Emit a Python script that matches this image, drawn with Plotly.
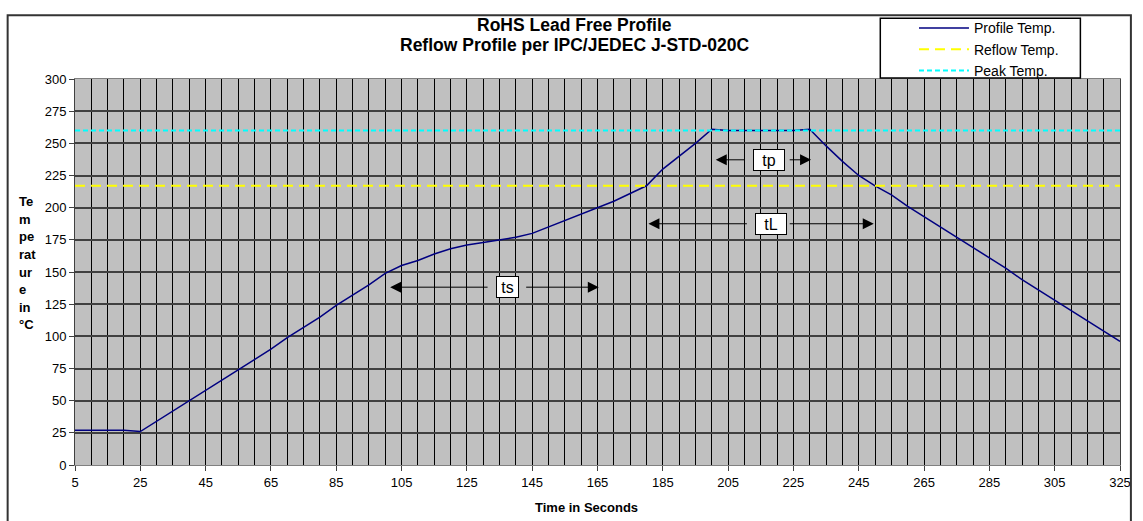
import plotly.graph_objects as go

# ---------------- data ----------------
time_s = list(range(5, 330, 5))
profile_temp = [27, 27, 27, 27, 26,
                34, 42, 50, 58, 66, 74, 82, 90, 99, 107, 115, 124, 132, 140, 149,
                155, 159, 164, 168, 171, 173, 175, 177, 180, 185, 190, 195, 200, 205, 211, 217,
                230, 240, 250, 261, 260, 260, 260, 260, 260, 261,
                248, 236, 225, 217, 210, 201, 193, 185, 177, 169, 161, 153, 144, 136, 128, 120, 112, 104, 96]
reflow_temp = [217] * len(time_s)
peak_temp = [260] * len(time_s)

series_names = ["Profile Temp.", "Reflow Temp.", "Peak Temp."]
x_tick_vals = list(range(5, 330, 20))
y_tick_vals = list(range(0, 301, 25))

# interval annotations: label, y level, left tip, left inner, right inner, right tip, label x
interval_labels = ["tp", "tL", "ts"]
interval_y = [237.2, 187.5, 138.2]
interval_left_tip = [201.2, 180.6, 101.5]
interval_left_in = [210.6, 211.2, 131.8]
interval_right_in = [223.4, 223.4, 142.7]
interval_right_tip = [230.4, 249.6, 165.4]
interval_label_x = [217.6, 218.2, 137.4]
interval_box_w = [28, 28, 19]

title_lines = ["RoHS Lead Free Profile", "Reflow Profile per IPC/JEDEC J-STD-020C"]
y_title_lines = ["Te", "m", "pe", "rat", "ur", "e", "in", "°C"]
x_title = "Time in Seconds"

FONT = "Arial, Liberation Sans, sans-serif"

# ---------------- layout geometry (pixels) ----------------
W, H = 1143, 521
L, R, T, B = 75, 13, 71, 56
PW, PH = W - L - R, H - T - B


def px_x(p):
    return (p - L) / PW


def px_y(p):
    return (H - B - p) / PH


fig = go.Figure()
fig.add_trace(go.Scatter(x=time_s, y=profile_temp, mode="lines", name=series_names[0],
                         line=dict(color="#000080", width=1.5)))
fig.add_trace(go.Scatter(x=time_s, y=reflow_temp, mode="lines", name=series_names[1],
                         line=dict(color="#FFFF00", width=2, dash="10px,6px")))
fig.add_trace(go.Scatter(x=time_s, y=peak_temp, mode="lines", name=series_names[2],
                         line=dict(color="#00FFFF", width=2, dash="5px,3px")))

annotations = []
for i, lab in enumerate(interval_labels):
    yv = interval_y[i]
    annotations.append(dict(x=interval_label_x[i], y=yv, xref="x", yref="y", text=lab,
                            xanchor="center", yanchor="middle",
                            showarrow=False, bgcolor="white", bordercolor="black",
                            borderwidth=1, borderpad=1, width=interval_box_w[i], height=18,
                            align="center", valign="middle",
                            font=dict(family=FONT, size=16, color="black")))
    for inner, tip in ((interval_left_in[i], interval_left_tip[i]),
                       (interval_right_in[i], interval_right_tip[i])):
        annotations.append(dict(x=tip, y=yv, ax=inner, ay=yv, xref="x", yref="y",
                                axref="x", ayref="y", text="", showarrow=True,
                                arrowhead=2, arrowsize=2.2, arrowwidth=1, arrowcolor="black"))


def text_ann(txt, xp, yp, size, bold=True, xanchor="center"):
    return dict(x=px_x(xp), y=px_y(yp), xref="paper", yref="paper",
                text=f"<b>{txt}</b>" if bold else txt, showarrow=False,
                xanchor=xanchor, yanchor="middle", borderpad=0,
                font=dict(family=FONT, size=size, color="black"))


annotations.append(text_ann(title_lines[0], 579, 15.5, 17.5))
annotations.append(text_ann(title_lines[1], 579, 36, 17.5))
annotations.append(text_ann(x_title, 591, 508, 13))
for k, t in enumerate(y_title_lines):
    annotations.append(text_ann(t, 17, 196 + 18 * k, 13, xanchor="left"))

shapes = [
    # outer chart frame
    dict(type="rect", xref="paper", yref="paper", x0=px_x(7), x1=px_x(1141), y0=px_y(540), y1=px_y(6),
         line=dict(color="#333333", width=2), fillcolor="rgba(0,0,0,0)", layer="above"),
    # legend box
    dict(type="rect", xref="paper", yref="paper", x0=px_x(888), x1=px_x(1090), y0=px_y(70), y1=px_y(9),
         line=dict(color="black", width=1.5), fillcolor="white", layer="above"),
]

fig.update_layout(
    width=W, height=H,
    margin=dict(l=L, r=R, t=T, b=B),
    paper_bgcolor="white",
    plot_bgcolor="#C0C0C0",
    font=dict(family=FONT, size=13, color="black"),
    showlegend=True,
    legend=dict(x=px_x(922), y=px_y(3), xanchor="left", yanchor="top",
                bgcolor="rgba(0,0,0,0)", borderwidth=0, itemwidth=50,
                font=dict(family=FONT, size=14, color="black"), tracegroupgap=0),
    annotations=annotations,
    shapes=shapes,
)

fig.update_xaxes(range=[5, 325], tickmode="array", tickvals=x_tick_vals,
                 ticks="outside", ticklen=5, tickcolor="#404040",
                 showgrid=True, gridcolor="black", gridwidth=1,
                 minor=dict(dtick=5, tick0=5, showgrid=True, gridcolor="black", gridwidth=1, ticks=""),
                 showline=True, linecolor="#808080", linewidth=1, mirror=True,
                 zeroline=False, tickfont=dict(family=FONT, size=13, color="black"))
fig.update_yaxes(range=[0, 300], tickmode="array", tickvals=y_tick_vals,
                 ticks="outside", ticklen=5, tickcolor="#404040",
                 showgrid=True, gridcolor="#404040", gridwidth=1.5,
                 showline=True, linecolor="#404040", linewidth=1, mirror=True,
                 zeroline=False, tickfont=dict(family=FONT, size=13, color="black"))

fig.write_html("out.html", config={"displayModeBar": False},
               post_script="document.body.style.margin='0';")
